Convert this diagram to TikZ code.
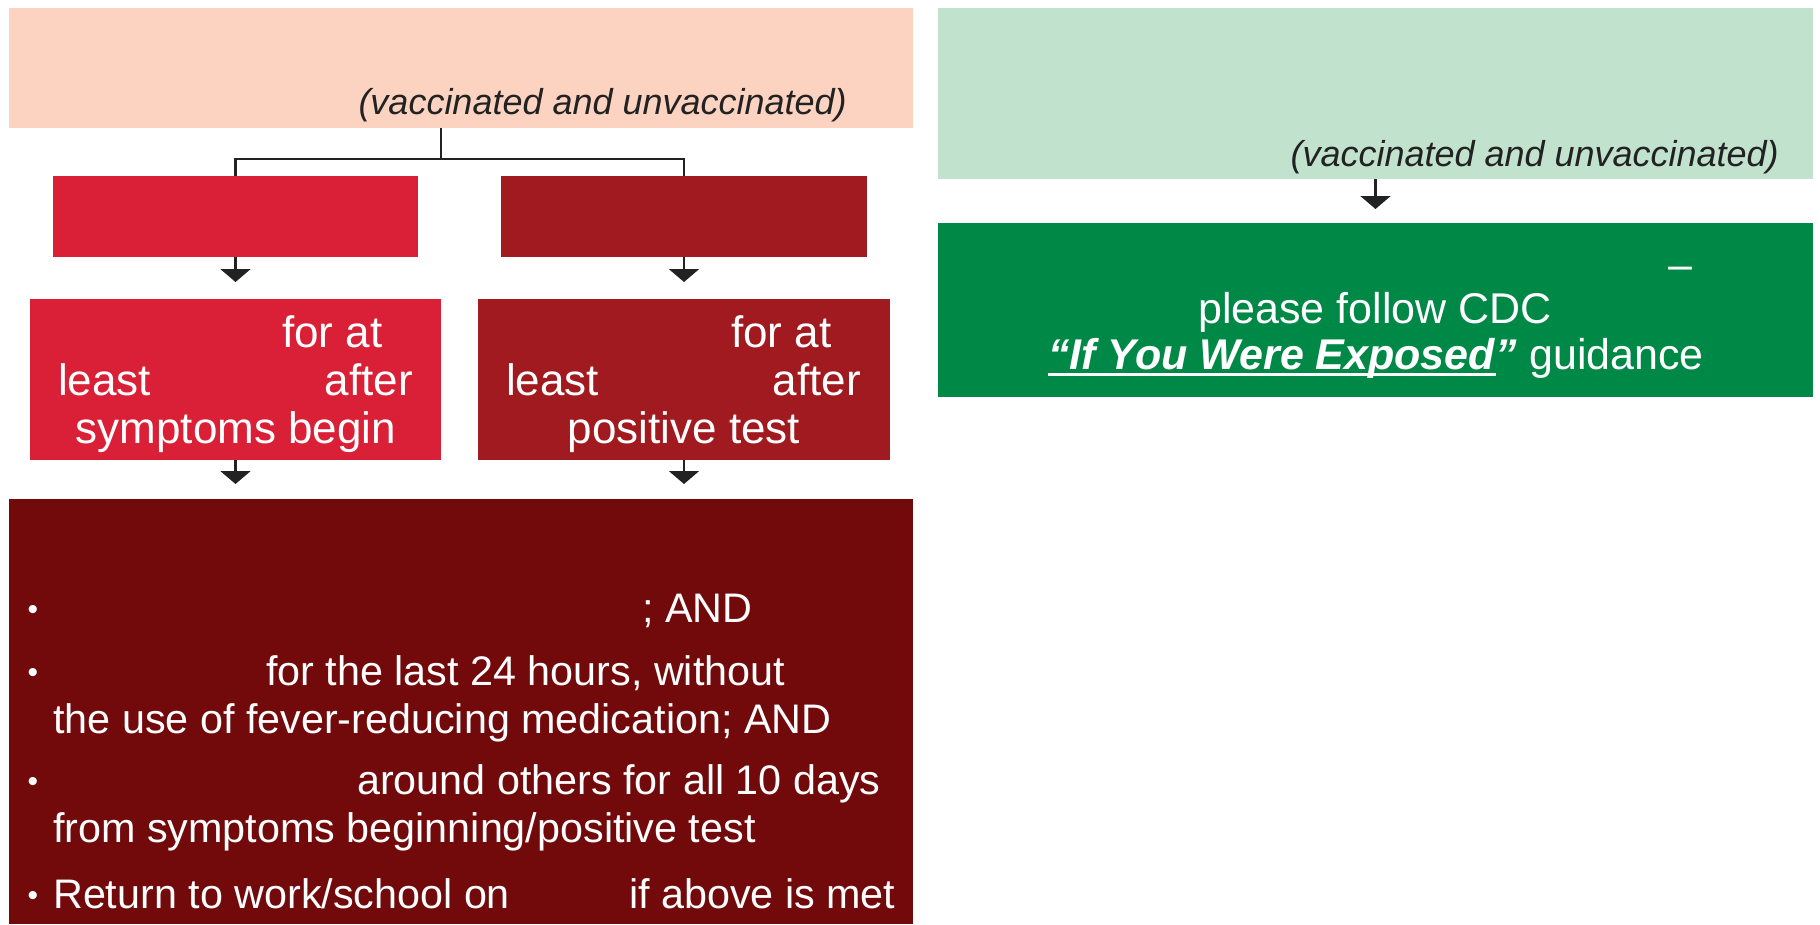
\documentclass[tikz,border=0pt]{standalone}
\usepackage{fontspec}
\setmainfont{Liberation Sans}
\newcommand{\thickul}[1]{\setbox0\hbox{#1}\rlap{\rule[-6pt]{\wd0}{2.8pt}}\box0}
\usetikzlibrary{arrows.meta}
\definecolor{peach}{HTML}{FCD3C1}
\definecolor{lgreen}{HTML}{C1E2CC}
\definecolor{redA}{HTML}{DA2036}
\definecolor{redB}{HTML}{A01A1F}
\definecolor{maroon}{HTML}{720A0B}
\definecolor{dgreen}{HTML}{008946}
\definecolor{ink}{HTML}{222222}
\begin{document}
\begin{tikzpicture}[x=1pt,y=-1pt,
  box/.style={draw=none,inner sep=0pt,outer sep=0pt,anchor=north west},
  tbig/.style={text=white,inner sep=0pt,font=\fontsize{44}{48}\selectfont},
  tbot/.style={text=white,inner sep=0pt,font=\fontsize{41.3}{48}\selectfont},
  bul/.style={text=white,inner sep=0pt,font=\fontsize{30}{30}\selectfont},
  tgr/.style={text=white,inner sep=0pt,font=\fontsize{43}{48}\selectfont},
  tit/.style={text=ink,inner sep=0pt,font=\fontsize{36}{40}\selectfont\itshape},
  conn/.style={draw=ink,line width=2.3pt},
  arr/.style={conn,-{Triangle[width=30pt,length=13pt]}}]
\useasboundingbox[fill=white] (0,0) rectangle (1820,924);

% boxes
\node[box,fill=peach,minimum width=904pt,minimum height=120pt] (p) at (9,8) {};
\node[box,fill=lgreen,minimum width=875pt,minimum height=171pt] (lg) at (938,8) {};
\node[box,fill=redA,minimum width=365pt,minimum height=81pt] (r1) at (53,176) {};
\node[box,fill=redB,minimum width=366pt,minimum height=81pt] (r2) at (501,176) {};
\node[box,fill=redA,minimum width=411pt,minimum height=161pt] (r3) at (30,299) {};
\node[box,fill=redB,minimum width=412pt,minimum height=161pt] (r4) at (478,299) {};
\node[box,fill=maroon,minimum width=904pt,minimum height=425pt] (big) at (9,499) {};
\node[box,fill=dgreen,minimum width=875pt,minimum height=174pt] (g) at (938,223) {};

% connectors
\coordinate (j) at (441,159);
\draw[conn] (p.south -| j) -- (j);
\draw[conn] (r1.north) |- (j) -| (r2.north);
\draw[arr] (r1.south) -- ([yshift=17pt]r3.north);
\draw[arr] (r2.south) -- ([yshift=17pt]r4.north);
\draw[arr] (r3.south) -- ([yshift=15pt]r3.south |- big.north);
\draw[arr] (r4.south) -- ([yshift=15pt]r4.south |- big.north);
\draw[arr] (lg.south) -- ([yshift=14pt]g.north);

% header texts
\node[tit,anchor=mid east] (pt) at (847,112) {(vaccinated and unvaccinated)};
\node[tit,anchor=mid east] (lgt) at (1779,164) {(vaccinated and unvaccinated)};

% box 3
\node[tbig,anchor=mid west] (r3a) at (282,345) {for at};
\node[tbig,anchor=mid west] (r3b) at (58,393) {least};
\node[tbig,anchor=mid east] (r3c) at (413,393) {after};
\node[tbig,anchor=mid] (r3d) at (236,441) {symptoms begin};
% box 4
\node[tbig,anchor=mid west] (r4a) at (731,345) {for at};
\node[tbig,anchor=mid west] (r4b) at (506,393) {least};
\node[tbig,anchor=mid east] (r4c) at (861,393) {after};
\node[tbig,anchor=mid] (r4d) at (684,441) {positive test};

% green box
\node[tgr,anchor=mid] (ga) at (1680,277) {–};
\node[tgr,anchor=mid] (gb) at (1375,321) {please follow CDC};
\node[tgr,anchor=mid] (gc) at (1376,367) {\thickul{\textbf{\textit{“If You Were Exposed}}}\textbf{\textit{”}} guidance};

% bottom box
\node[bul,anchor=center] (b1) at (33,612) {•};
\node[bul,anchor=center] (b2) at (33,675) {•};
\node[bul,anchor=center] (b3) at (33,784) {•};
\node[bul,anchor=center] (b4) at (33,898) {•};
\node[tbot,anchor=mid west] (l1) at (642,620) {; AND};
\node[tbot,anchor=mid west] (l2) at (266,683) {for the last 24 hours, without};
\node[tbot,anchor=mid west] (l3) at (53,731) {the use of fever-reducing medication; AND};
\node[tbot,anchor=mid west] (l4) at (357,792) {around others for all 10 days};
\node[tbot,anchor=mid west] (l5) at (53,840) {from symptoms beginning/positive test};
\node[tbot,anchor=mid west] (l6) at (53,906) {Return to work/school on};
\node[tbot,anchor=mid west] (l7) at (629,906) {if above is met};
\end{tikzpicture}
\end{document}
